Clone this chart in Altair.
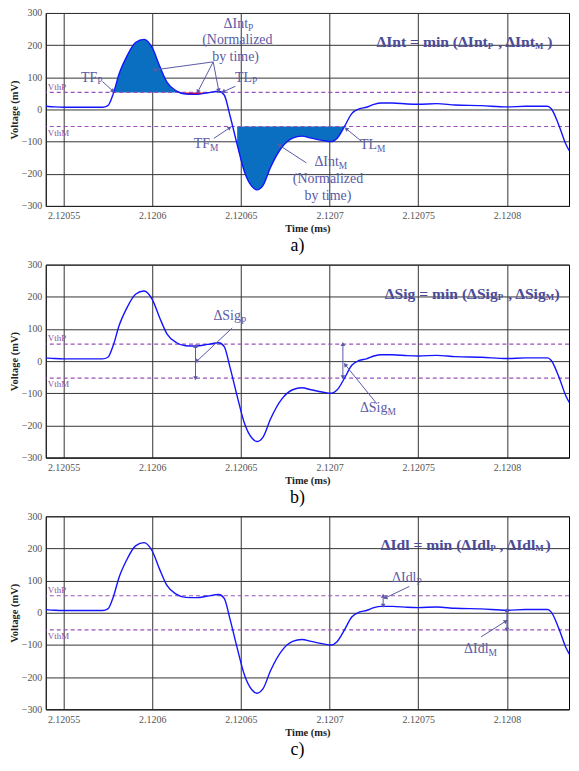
import math
import altair as alt
import pandas as pd

# ---------------- data ----------------
time_ms = [2.12054, 2.120545, 2.12055, 2.12056, 2.120572, 2.120575, 2.1205781, 2.1205813,
           2.1205854, 2.1205906, 2.1205954, 2.12060, 2.1206042, 2.1206083, 2.1206135,
           2.1206188, 2.120625, 2.1206313, 2.1206375, 2.1206406, 2.1206438, 2.1206479,
           2.1206521, 2.1206563, 2.120659, 2.1206625, 2.1206667, 2.1206729, 2.1206792,
           2.1206844, 2.1206896, 2.1206958, 2.120701, 2.1207042, 2.1207083, 2.1207125,
           2.1207167, 2.1207208, 2.120725, 2.1207292, 2.1207354, 2.1207438, 2.12075,
           2.1207604, 2.1207708, 2.1207854, 2.12080, 2.1208104, 2.1208229, 2.120825,
           2.1208292, 2.1208333, 2.1208375, 2.1208406]
voltage_mv = [10, 8, 7, 7, 7, 12, 50, 110,
              162, 208, 218, 192, 135, 85, 58,
              48, 47, 52, 57, 45, -18, -109,
              -195, -240, -250, -236, -180, -119, -89,
              -83, -89, -96, -100, -90, -54, -13,
              2, 7, 16, 20, 20, 17, 16,
              18, 14, 12, 8, 10, 10, 2,
              -48, -109, -150, -185]
vth = 53

x_ticks = [2.12055, 2.1206, 2.12065, 2.1207, 2.12075, 2.1208]
y_ticks = [-300, -200, -100, 0, 100, 200, 300]
x_domain = [2.12054, 2.120835]
y_domain = [-300, 300]

# fill windows of panel a
pos_window = [2.12054, 2.1206415]
red_window = [2.120614, 2.120634]
neg_window = [2.120644, 2.120712]

vth_labels = [(2.1205411, 71, "VthP"), (2.1205411, -72, "VthM")]

# panel a annotations
main_a = [(2.120569, 99, "TF"), (2.1206562, 99, "TL"), (2.1206326, -107, "TF"),
          (2.1207268, -112, "TL"), (2.120654, 267, "ΔInt"), (2.1207052, -163, "ΔInt")]
sub_a = [(2.120569, 87, "P"), (2.1206562, 87, "P"), (2.1206326, -120, "M"),
         (2.1207268, -123, "M"), (2.120654, 254, "P"), (2.1207052, -176, "M")]
center_a = [(2.120648, 217, "(Normalized"), (2.120647, 163, "by time)"),
            (2.1206991, -215, "(Normalized"), (2.1206991, -268, "by time)")]
arrows_a = [(2.1206344, 148, 2.1206013, 123), (2.1206344, 148, 2.1206257, 55),
            (2.1206344, 148, 2.1206375, 59), (2.1205719, 87, 2.1205779, 57),
            (2.1206469, 72, 2.12064, 55), (2.1206347, -90, 2.1206437, -57),
            (2.1206869, -166, 2.1206713, -110), (2.1207182, -100, 2.1207094, -60)]
dbl_a = []
form_right_a = [(2.1207892, 209, "ΔInt = min (ΔInt"), (2.1208158, 209, ", ΔInt")]
form_left_a = [(2.1208228, 209, ")")]
form_sub_a = [(2.1207892, 198, "P"), (2.1208158, 198, "M")]

# panel b annotations
main_b = [(2.12065, 139, "ΔSig"), (2.1207326, -145, "ΔSig")]
sub_b = [(2.12065, 124, "P"), (2.1207326, -158, "M")]
center_b = []
arrows_b = [(2.1206451, 103, 2.120625, -1), (2.1207267, -133, 2.1207088, -11)]
dbl_b = [(2.1206244, 47, -53), (2.1207075, 53, -50)]
form_right_b = [(2.1207948, 210, "ΔSig = min (ΔSig"), (2.1208219, 210, ", ΔSig")]
form_left_b = [(2.1208268, 210, ")")]
form_sub_b = [(2.1207948, 199, "P"), (2.1208219, 199, "M")]

# panel c annotations
main_c = [(2.120749, 109, "ΔIdl"), (2.1207896, -112, "ΔIdl")]
sub_c = [(2.120749, 97, "P"), (2.1207896, -125, "M")]
center_c = []
arrows_c = [(2.120745, 82, 2.1207314, 46), (2.1207854, -75, 2.1207994, -26)]
dbl_c = [(2.1207302, 53, 22), (2.12080, 8, -53)]
form_right_c = [(2.1207906, 212, "ΔIdl = min (ΔIdl"), (2.1208160, 212, ", ΔIdl")]
form_left_c = [(2.1208218, 212, ")")]
form_sub_c = [(2.1207906, 201, "P"), (2.1208160, 201, "M")]

# ---------------- style ----------------
W, H = 526, 194
SERIF = "Liberation Serif"
ANN = "#5a5aa6"
FORM = "#4b4b98"
PURPLE = "#9a52b8"
LINE = "#1414ff"
FILL = "#0a6fc0"

xs = alt.Scale(domain=x_domain, nice=False, zero=False)
ys = alt.Scale(domain=y_domain, nice=False, zero=False)
X_AXIS = alt.Axis(values=x_ticks, format=".5~f", title="Time (ms)")
Y_AXIS = alt.Axis(values=y_ticks, title="Voltage (mV)")

wave = pd.DataFrame({"t": time_ms, "v": voltage_mv})


def enc(tf="t:Q", vf="v:Q"):
    return dict(x=alt.X(tf, scale=xs, axis=X_AXIS, title="Time (ms)"),
                y=alt.Y(vf, scale=ys, axis=Y_AXIS, title="Voltage (mV)"))


def text_layer(rows, align, size, color, weight="normal", baseline="middle"):
    df = pd.DataFrame(rows, columns=["t", "v", "label"])
    return alt.Chart(df).mark_text(align=align, baseline=baseline, fontSize=size,
                                   fontWeight=weight, font=SERIF, color=color).encode(
        text="label:N", **enc())


def head_angle(t1, v1, t2, v2):
    dx = (t2 - t1) / (x_domain[1] - x_domain[0]) * W
    dy = -(v2 - v1) / (y_domain[1] - y_domain[0]) * H
    return math.degrees(math.atan2(dx, -dy)) % 360


def arrow_layers(arrows, dbl):
    segs = []
    heads = []
    for (t1, v1, t2, v2) in arrows:
        segs.append({"t": t1, "v": v1, "t2": t2, "v2": v2})
        heads.append({"t": t2, "v": v2, "ang": head_angle(t1, v1, t2, v2)})
    for (t, va, vb) in dbl:
        segs.append({"t": t, "v": va, "t2": t, "v2": vb})
        heads.append({"t": t, "v": va, "ang": head_angle(t, vb, t, va)})
        heads.append({"t": t, "v": vb, "ang": head_angle(t, va, t, vb)})
    if not segs:
        return []
    sdf = pd.DataFrame(segs)
    hdf = pd.DataFrame(heads)
    rule = alt.Chart(sdf).mark_rule(color=ANN, strokeWidth=1).encode(
        x2="t2:Q", y2="v2:Q", **enc())
    pts = alt.Chart(hdf).mark_point(shape="triangle-up", filled=True, size=22,
                                    color=ANN, opacity=1).encode(
        angle=alt.Angle("ang:Q", scale=None), **enc())
    return [rule, pts]


def panel(letter, fills, main, sub, center, arrows, dbl, f_right, f_left, f_sub):
    layers = []
    if fills:
        pos = wave[(wave.t >= pos_window[0]) & (wave.t <= pos_window[1])]
        red = wave[(wave.t >= red_window[0]) & (wave.t <= red_window[1])]
        neg = wave[(wave.t >= neg_window[0]) & (wave.t <= neg_window[1])]
        layers.append(alt.Chart(pos).transform_calculate(
            top=f"max(datum.v, {vth})", base=f"{vth}").mark_area(
            color=FILL, opacity=1, interpolate="monotone").encode(y2="base:Q", **enc("t:Q", "top:Q")))
        layers.append(alt.Chart(red).transform_calculate(
            top=f"min(datum.v, {vth})", base=f"{vth}").mark_area(
            color="#ff0000", opacity=1, interpolate="monotone").encode(y2="base:Q", **enc("t:Q", "top:Q")))
        layers.append(alt.Chart(neg).transform_calculate(
            top=f"min(datum.v, {-vth})", base=f"{-vth}").mark_area(
            color=FILL, opacity=1, interpolate="monotone").encode(y2="base:Q", **enc("t:Q", "top:Q")))

    thr = pd.DataFrame({"v": [vth, -vth]})
    layers.append(alt.Chart(thr).mark_rule(color=PURPLE, strokeDash=[4, 3], strokeWidth=1.2).encode(
        y=alt.Y("v:Q", scale=ys, axis=Y_AXIS, title="Voltage (mV)")))

    line = alt.Chart(wave).mark_line(color=LINE, strokeWidth=1.4, interpolate="monotone", clip=True).encode(
        **enc())
    layers.append(line)
    layers.append(text_layer(vth_labels, "left", 9, "#8e4f9e"))
    layers += arrow_layers(arrows, dbl)
    if main:
        layers.append(text_layer(main, "right", 14, ANN))
    if sub:
        layers.append(text_layer(sub, "left", 9.5, ANN))
    if center:
        layers.append(text_layer(center, "center", 14, ANN))
    layers.append(text_layer(f_right, "right", 15.7, FORM, weight="bold"))
    layers.append(text_layer(f_left, "left", 15.7, FORM, weight="bold"))
    layers.append(text_layer(f_sub, "left", 9, FORM, weight="bold"))

    return alt.layer(*layers).properties(
        width=W, height=H,
        title=alt.TitleParams(letter, orient="bottom", font=SERIF, fontSize=18,
                              fontWeight="normal", color="black", dx=-10, offset=3),
    )


pa = panel("a)", True, main_a, sub_a, center_a, arrows_a, dbl_a, form_right_a, form_left_a, form_sub_a)
pb = panel("b)", False, main_b, sub_b, center_b, arrows_b, dbl_b, form_right_b, form_left_b, form_sub_b)
pc = panel("c)", False, main_c, sub_c, center_c, arrows_c, dbl_c, form_right_c, form_left_c, form_sub_c)

chart = alt.vconcat(pa, pb, pc, spacing=3).properties(
    padding={"left": 0, "top": -3, "right": 0, "bottom": 0}
).configure_view(stroke="black", strokeWidth=1).configure_axis(
    labelFont=SERIF, labelFontSize=10, labelColor="#555555",
    titleFont=SERIF, titleFontSize=10.5, titleFontWeight="bold", titleColor="#222222",
    grid=True, gridColor="#333333", gridWidth=1, gridOpacity=1,
    ticks=False, domain=True, domainColor="#222222",
).configure_axisX(labelPadding=5, titlePadding=3).configure_axisY(
    labelPadding=4, titlePadding=2
)

chart.save("out.html", embed_options={"renderer": "svg", "actions": False})
